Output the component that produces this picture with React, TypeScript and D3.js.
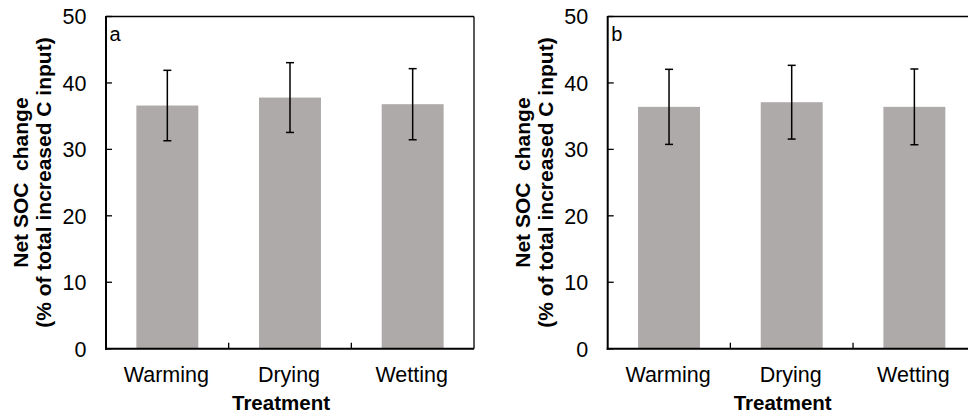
import React from "react";
import * as d3 from "d3";

const categories = ["Warming", "Drying", "Wetting"];
const meanA = [36.6, 37.8, 36.8];
const errA = [5.3, 5.25, 5.35];
const meanB = [36.4, 37.1, 36.4];
const errB = [5.65, 5.55, 5.7];
const yTicks = [0, 10, 20, 30, 40, 50];
const panelLabels = ["a", "b"];

const W = 968;
const H = 413;
const plotTop = 16.5;
const plotBottom = 348.7;
const plotWidth = 368;
const axisXs = [106, 607.7];
const barColor = "#aeaaa9";
const font = "'Liberation Sans', Arial, sans-serif";

function Panel({ x0, means, errs, label }: { x0: number; means: number[]; errs: number[]; label: string }) {
  const y = d3.scaleLinear().domain([0, 50]).range([plotBottom, plotTop]);
  const x = d3
    .scaleBand<string>()
    .domain(categories)
    .range([x0, x0 + plotWidth])
    .paddingInner(0.495)
    .paddingOuter(0.2475);
  const step = x.step();
  const bw = x.bandwidth();
  const capHalf = 4;
  return (
    <g>
      {categories.map((c, i) => (
        <rect
          key={c}
          x={x(c)!}
          y={y(means[i])}
          width={bw}
          height={plotBottom - y(means[i])}
          fill={barColor}
        />
      ))}
      {categories.map((c, i) => {
        const cx = x(c)! + bw / 2;
        const hi = y(means[i] + errs[i]);
        const lo = y(means[i] - errs[i]);
        return (
          <g key={c} stroke="#000" strokeWidth={1.5}>
            <line x1={cx} x2={cx} y1={hi} y2={lo} />
            <line x1={cx - capHalf} x2={cx + capHalf} y1={hi} y2={hi} />
            <line x1={cx - capHalf} x2={cx + capHalf} y1={lo} y2={lo} />
          </g>
        );
      })}
      <line x1={x0} x2={x0 + plotWidth} y1={plotTop} y2={plotTop} stroke="#000" strokeWidth={1.3} />
      <line x1={x0 + plotWidth} x2={x0 + plotWidth} y1={plotTop} y2={plotBottom} stroke="#000" strokeWidth={1.3} />
      <line x1={x0} x2={x0} y1={plotTop - 0.6} y2={plotBottom + 1} stroke="#000" strokeWidth={2} />
      <line x1={x0 - 1} x2={x0 + plotWidth} y1={plotBottom} y2={plotBottom} stroke="#000" strokeWidth={2} />
      {yTicks.map((t) => (
        <g key={t}>
          <line x1={x0} x2={x0 + 6} y1={y(t)} y2={y(t)} stroke="#000" strokeWidth={1.3} />
          <text
            x={x0 - 19.5}
            y={y(t) + 7.8}
            textAnchor="end"
            fontFamily={font}
            fontSize={21.5}
            fill="#000"
          >
            {t}
          </text>
        </g>
      ))}
      {[1, 2].map((i) => (
        <line
          key={i}
          x1={x0 + step * i}
          x2={x0 + step * i}
          y1={plotBottom}
          y2={plotBottom - 6}
          stroke="#000"
          strokeWidth={1.3}
        />
      ))}
      {categories.map((c) => (
        <text
          key={c}
          x={x(c)! + bw / 2 - 1}
          y={381.7}
          textAnchor="middle"
          fontFamily={font}
          fontSize={21.5}
          fill="#000"
        >
          {c}
        </text>
      ))}
      <text
        x={x0 + 175}
        y={410}
        textAnchor="middle"
        fontFamily={font}
        fontSize={20.5}
        fontWeight="bold"
        fill="#000"
      >
        Treatment
      </text>
      <g transform={`translate(${x0 - 78},${(plotTop + plotBottom) / 2}) rotate(-90)`}>
        <text x={0} y={0} textAnchor="middle" fontFamily={font} fontSize={21} fontWeight="bold" fill="#000" style={{ whiteSpace: "pre" }}>
          {"Net SOC  change"}
        </text>
      </g>
      <g transform={`translate(${x0 - 55},${(plotTop + plotBottom) / 2}) rotate(-90)`}>
        <text x={0} y={0} textAnchor="middle" fontFamily={font} fontSize={21} fontWeight="bold" fill="#000">
          (% of total increased C input)
        </text>
      </g>
      <text x={x0 + 3.5} y={40.5} fontFamily={font} fontSize={20} fill="#000">
        {label}
      </text>
    </g>
  );
}

export default function App() {
  return (
    <svg
      width={W}
      height={H}
      viewBox={`0 0 ${W} ${H}`}
      style={{ position: "absolute", left: 0, top: 0, background: "#fff" }}
    >
      <rect x={0} y={0} width={W} height={H} fill="#fff" />
      <Panel x0={axisXs[0]} means={meanA} errs={errA} label={panelLabels[0]} />
      <Panel x0={axisXs[1]} means={meanB} errs={errB} label={panelLabels[1]} />
    </svg>
  );
}
